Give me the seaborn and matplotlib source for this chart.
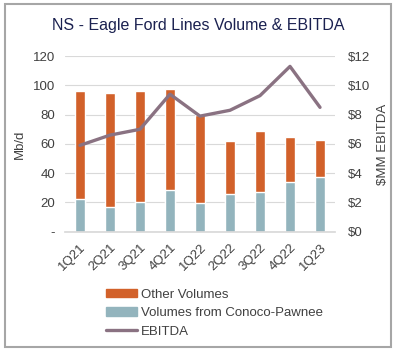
import numpy as np
import pandas as pd
import seaborn as sns
import matplotlib.pyplot as plt
from matplotlib.patches import Patch, Rectangle
from matplotlib.lines import Line2D

quarters = ['1Q21', '2Q21', '3Q21', '4Q21', '1Q22', '2Q22', '3Q22', '4Q22', '1Q23']
other_vol = [74.5, 78.0, 76.0, 69.0, 60.5, 36.0, 41.5, 31.0, 25.5]
conoco_vol = [22.0, 17.0, 20.0, 28.5, 19.5, 26.0, 27.0, 34.0, 37.5]
ebitda = [5.9, 6.6, 7.0, 9.4, 7.9, 8.3, 9.3, 11.3, 8.5]

sns.set_theme(style='white')
plt.rcParams['font.family'] = ['Liberation Sans', 'DejaVu Sans']

c_other = '#D2612A'
c_conoco = '#93B4BD'
c_line = '#8A7282'
txt = '#404040'
fs = 9.5

total = [o + c for o, c in zip(other_vol, conoco_vol)]
df = pd.DataFrame({'quarter': quarters, 'total': total, 'conoco': conoco_vol, 'ebitda': ebitda})

fig = plt.figure(figsize=(3.96, 3.51), dpi=100)
ax = fig.add_axes([0.164, 0.34, 0.682, 0.50])

sns.barplot(data=df, x='quarter', y='total', color=c_other, saturation=1, width=0.33, ax=ax)
sns.barplot(data=df, x='quarter', y='conoco', color=c_conoco, saturation=1, width=0.33, ax=ax)

ax.set_ylim(0, 120)
ax.set_xlim(-0.5, 8.5)
ax.set_yticks(range(0, 121, 20))
ax.set_yticklabels(['-'] + [str(v) for v in range(20, 121, 20)], fontsize=fs, color=txt)
ax.yaxis.grid(True, color='#D9D9D9', lw=0.8)
ax.set_axisbelow(True)
for s in ax.spines.values():
    s.set_visible(False)
ax.spines['bottom'].set_visible(True)
ax.spines['bottom'].set_color('#D9D9D9')
ax.set_xlabel('')
ax.set_ylabel('Mb/d', fontsize=fs, color=txt, labelpad=5)
ax.tick_params(axis='both', length=0, pad=7)
ax.set_xticks(range(len(quarters)))
ax.set_xticklabels(quarters, rotation=45, ha='right', rotation_mode='anchor', fontsize=fs, color=txt)

ax2 = ax.twinx()
sns.pointplot(data=df, x='quarter', y='ebitda', color=c_line, markers='', linewidth=2.4, ax=ax2)
ax2.set_ylim(0, 12)
ax2.set_xlim(-0.5, 8.5)
ax2.set_yticks(range(0, 13, 2))
ax2.set_yticklabels(['$%d' % v for v in range(0, 13, 2)], fontsize=fs, color=txt)
ax2.set_ylabel('$MM EBITDA', fontsize=fs, color=txt, labelpad=5)
ax2.tick_params(axis='y', length=0, pad=9)
for s in ax2.spines.values():
    s.set_visible(False)

fig.text(0.5, 0.928, 'NS - Eagle Ford Lines Volume & EBITDA', ha='center', va='center',
         fontsize=11.5, color='#1B2150')

handles = [Patch(color=c_other), Patch(color=c_conoco), Line2D([0], [0], color=c_line, lw=2.4)]
labels = ['Other Volumes', 'Volumes from Conoco-Pawnee', 'EBITDA']
fig.legend(handles, labels, loc='upper left', bbox_to_anchor=(0.255, 0.193), frameon=False,
           fontsize=fs, labelcolor=txt, handlelength=2.3, handleheight=0.6, handletextpad=0.3,
           labelspacing=0.5, borderaxespad=0)

fig.patches.append(Rectangle((0.012, 0.012), 0.976, 0.978, transform=fig.transFigure,
                             fill=False, edgecolor='#A6A6A6', lw=1.5))

fig.savefig('out.png', dpi=100)
